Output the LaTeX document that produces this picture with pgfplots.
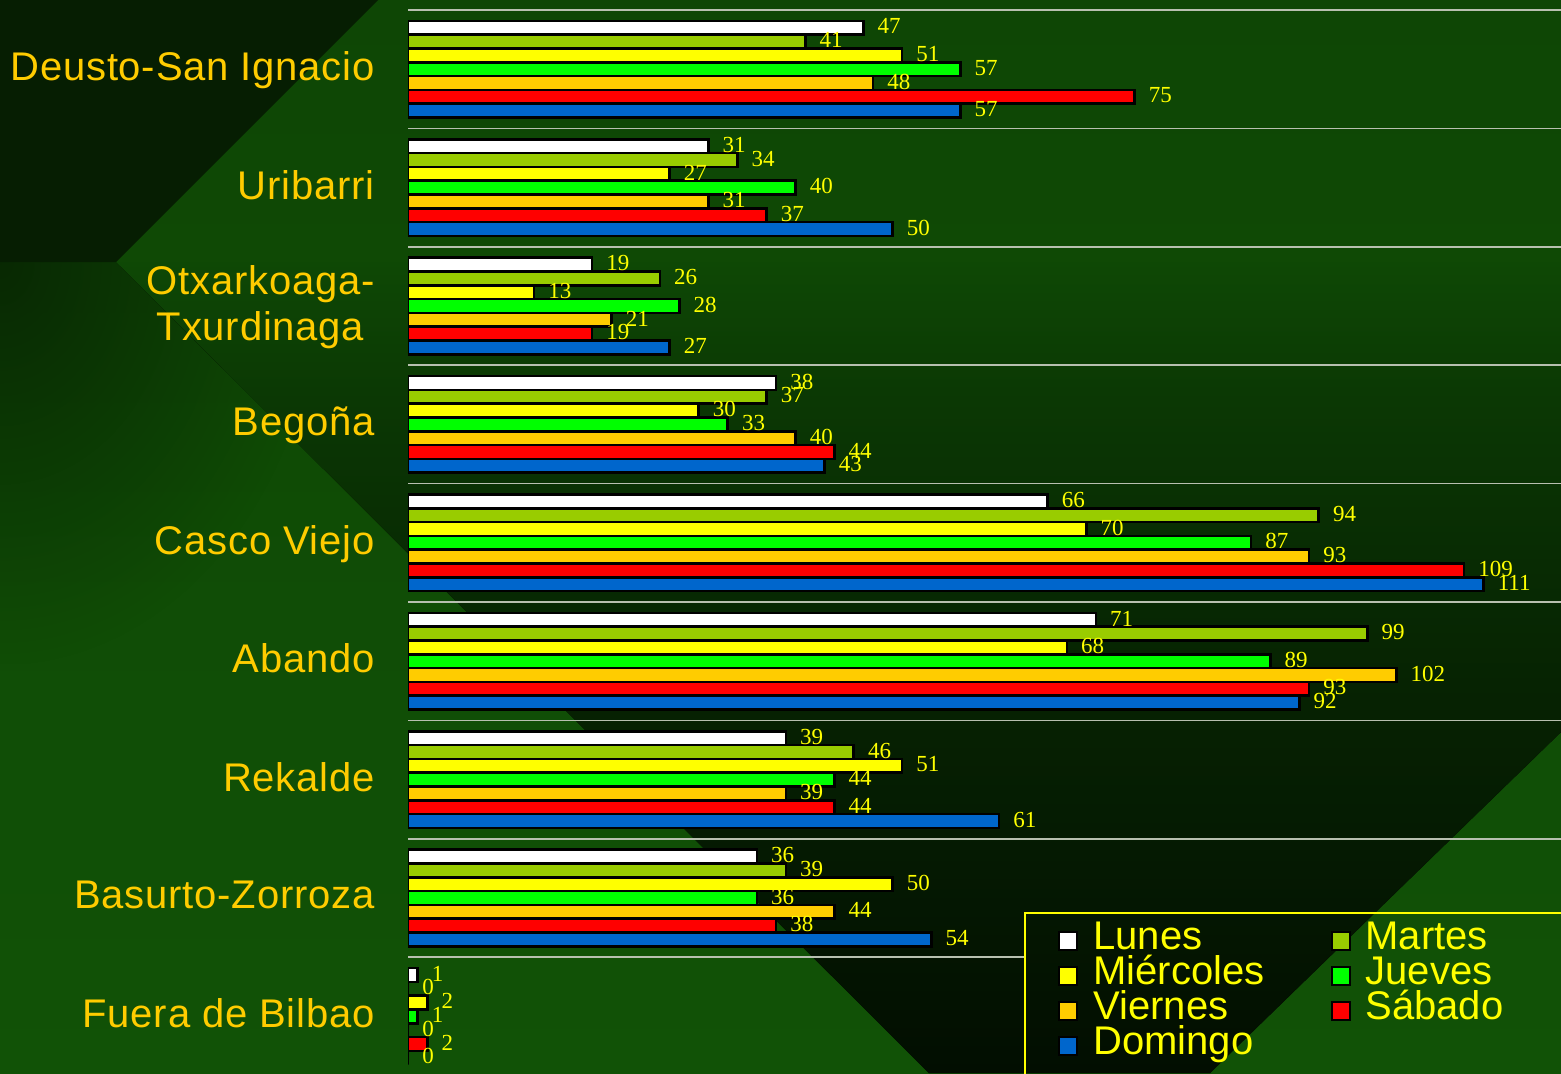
\documentclass[border=0pt]{standalone}
\usepackage{pgfplots}
\pgfplotsset{compat=1.18}
\usepackage{pgfplotstable}
\usetikzlibrary{fadings}
\usepackage{fontspec}
\newfontfamily\sansf{Liberation Sans}
\newfontfamily\sansl[LetterSpace=2]{Liberation Sans}
\newfontfamily\seriff{Liberation Serif}

\definecolor{lun}{HTML}{FFFFFF}
\definecolor{mar}{HTML}{99CC00}
\definecolor{mie}{HTML}{FFFF00}
\definecolor{jue}{HTML}{00FF00}
\definecolor{vie}{HTML}{FFCC00}
\definecolor{sab}{HTML}{FF0000}
\definecolor{dom}{HTML}{0066CC}
\definecolor{gold}{HTML}{FFCC00}
\definecolor{vallab}{HTML}{FFFF00}
\definecolor{bgtop}{RGB}{14,70,5}
\definecolor{bgbot}{RGB}{17,82,6}
\definecolor{darkA}{RGB}{6,30,2}
\definecolor{gridc}{RGB}{184,192,176}
\definecolor{c1}{RGB}{14,72,5}
\definecolor{c2}{RGB}{11,56,4}
\definecolor{c3}{RGB}{8,44,3}
\definecolor{c4}{RGB}{6,34,2}
\definecolor{c5}{RGB}{5,26,2}
\definecolor{c6}{RGB}{3,18,1}
\definecolor{c7}{RGB}{2,14,1}

\pgfdeclareverticalshading{bandshade}{100bp}{color(0bp)=(c7); color(25bp)=(c7); color(29.5bp)=(c6); color(38.7bp)=(c5); color(48bp)=(c4); color(57.2bp)=(c3); color(66.5bp)=(c2); color(75bp)=(c1); color(100bp)=(c1)}
\tikzfading[name=fadecorner, inner color=transparent!0, outer color=transparent!100]

% visitas por distrito y dia de la semana
\pgfplotstableread{
y lun mar mie jue vie sab dom
8 47 41 51 57 48 75 57
7 31 34 27 40 31 37 50
6 19 26 13 28 21 19 27
5 38 37 30 33 40 44 43
4 66 94 70 87 93 109 111
3 71 99 68 89 102 93 92
2 39 46 51 44 39 44 61
1 36 39 50 36 44 38 54
0 1 0 2 1 0 2 0
}\datatab

\begin{document}
\begin{tikzpicture}
\useasboundingbox (0,0) rectangle (780.5pt,-536.5pt);
\clip (0,0) rectangle (780.5pt,-536.5pt);

% fondo (coordenadas en px)
\begin{scope}[x=0.5pt,y=-0.5pt]
\fill[top color=bgtop, bottom color=bgbot] (0,0) rectangle (1561,1073);
\fill[darkA] (0,0) -- (378,0) -- (116,262) -- (0,262) -- cycle;
\begin{scope}
\clip (0,262) rectangle (420,1073);
\fill[darkA, path fading=fadecorner, opacity=0.75] (-320,-140) rectangle (320,664);
\end{scope}
\fill[shading=bandshade] (116,262) -- (1561,262) -- (1561,732) -- (1210,1073) -- (929,1073) -- cycle;
\end{scope}

\begin{axis}[
  at={(204pt,-5pt)}, anchor=north west,
  scale only axis, width=576.5pt, height=532.8pt,
  xmin=0, xmax=119, ymin=-0.5, ymax=8.5,
  xbar, bar width=6.85pt,
  axis line style={draw=none},
  xtick=\empty,
  ytick={0,...,8},
  yticklabels={Fuera de Bilbao, Basurto-Zorroza, Rekalde, Abando, Casco Viejo, Begoña, {Otxarkoaga-\\Txurdinaga}, Uribarri, Deusto-San Ignacio},
  minor ytick={-0.5,1.5,2.5,...,8.5},
  yminorgrids, minor grid style={gridc, line width=0.85pt},
  major tick length=0pt, minor tick length=0pt,
  yticklabel style={font=\sansl\fontsize{20}{23}\selectfont, text=gold, align=center, inner sep=0pt, xshift=-16.5pt, yshift=1.5pt, text depth=0pt},
  every axis plot/.append style={draw=black, line width=1.3pt},
  /pgf/number format/assume math mode=true,
  nodes near coords, point meta=x,
  nodes near coords style={font=\seriff\fontsize{11.5}{12}\selectfont, text=vallab, inner sep=0pt, anchor=west, xshift=6.5pt, yshift=0.7pt},
  legend columns=2,
  legend cell align=left,
  legend style={at={(0.5637,0.1432)}, anchor=north west, draw=none, fill=none,
    font=\sansf\fontsize{20}{24}\selectfont, text=vallab, inner sep=0pt, row sep=0pt,
    nodes={inner sep=0pt, text height=13pt, text depth=4.5pt},
    /tikz/every even column/.append style={column sep=33pt},
    /tikz/every odd column/.append style={column sep=7.5pt}},
  legend image code/.code={\draw[#1, line width=1pt] (0pt,-4.5pt) rectangle (9pt,4.5pt);},
]
\draw[gridc, line width=0.85pt] (axis cs:0,0.5) -- (axis cs:63.7,0.5);
\addplot[fill=lun, bar shift=20.7pt] table[x=lun,y=y]{\datatab};
\addlegendentry{Lunes}
\addplot[fill=mar, bar shift=13.8pt] table[x=mar,y=y]{\datatab};
\addlegendentry{Martes}
\addplot[fill=mie, bar shift=6.9pt] table[x=mie,y=y]{\datatab};
\addlegendentry{Miércoles}
\addplot[fill=jue, bar shift=0pt] table[x=jue,y=y]{\datatab};
\addlegendentry{Jueves}
\addplot[fill=vie, bar shift=-6.9pt] table[x=vie,y=y]{\datatab};
\addlegendentry{Viernes}
\addplot[fill=sab, bar shift=-13.8pt] table[x=sab,y=y]{\datatab};
\addlegendentry{Sábado}
\addplot[fill=dom, bar shift=-20.7pt] table[x=dom,y=y]{\datatab};
\addlegendentry{Domingo}
\end{axis}

\begin{scope}[x=0.5pt,y=-0.5pt]
\draw[vallab, line width=0.75pt] (1025,1085) -- (1025,913) -- (1575,913);
\end{scope}
\end{tikzpicture}
\end{document}
